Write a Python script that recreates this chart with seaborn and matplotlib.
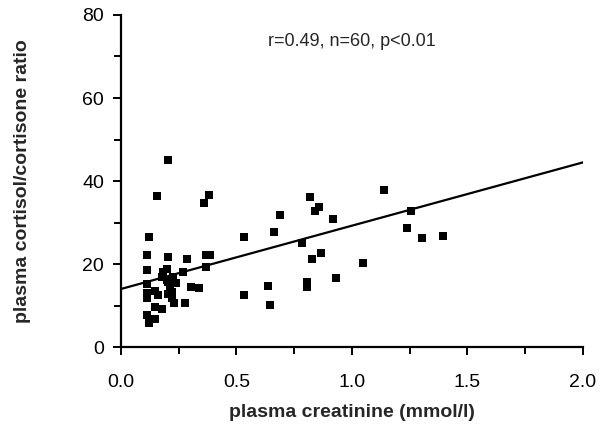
import matplotlib
matplotlib.use("Agg")
import matplotlib.pyplot as plt
from matplotlib.ticker import MultipleLocator
import numpy as np
import pandas as pd
import seaborn as sns

# plasma creatinine (mmol/l)
creatinine = [
    0.112, 0.122, 0.112, 0.112, 0.112, 0.112, 0.112, 0.122, 0.148, 0.148,
    0.148, 0.158, 0.177, 0.184, 0.178, 0.206, 0.206, 0.206, 0.213, 0.206,
    0.220, 0.230, 0.225, 0.198, 0.268, 0.288, 0.278, 0.303, 0.339, 0.360,
    0.380, 0.370, 0.387, 0.370, 0.535, 0.535, 0.220, 0.200, 0.240, 0.160,
    0.636, 0.645, 0.662, 0.691, 0.783, 0.807, 0.807, 0.819, 0.829, 0.839,
    0.858, 0.865, 0.920, 0.930, 1.046, 1.137, 1.239, 1.257, 1.303, 1.394,
]
# plasma cortisol/cortisone ratio
ratio = [
    22.2, 26.6, 18.7, 15.1, 13.1, 11.8, 7.8, 5.8, 13.6, 9.6,
    6.8, 36.5, 9.1, 18.1, 17.0, 45.0, 21.6, 15.8, 14.6, 12.8,
    11.8, 10.6, 17.0, 16.2, 18.2, 21.2, 10.7, 14.6, 14.2, 34.6,
    36.7, 22.2, 22.2, 19.2, 26.6, 12.6, 13.4, 18.8, 15.5, 12.5,
    14.7, 10.2, 27.8, 31.8, 25.2, 15.8, 14.6, 36.2, 21.2, 32.8,
    33.8, 22.7, 30.8, 16.7, 20.2, 37.8, 28.8, 32.8, 26.4, 26.8,
]

# regression line
fit_intercept = 14.0
fit_slope = 15.25
fit_x = [0.0, 2.0]

stats_text = "r=0.49, n=60, p<0.01"

sns.set_theme(style="ticks")
plt.rcParams["font.family"] = ["Liberation Sans Narrow", "Liberation Sans", "DejaVu Sans"]

df = pd.DataFrame({"creatinine": creatinine, "ratio": ratio})
line_df = pd.DataFrame({"x": fit_x,
                        "y": [fit_intercept + fit_slope * v for v in fit_x]})

fig = plt.figure(figsize=(6.01, 4.40), dpi=100)
ax = fig.add_axes([0.201, 0.211, 0.769, 0.755])

sns.scatterplot(data=df, x="creatinine", y="ratio", marker="s", s=30,
                color="black", edgecolor="black", linewidth=0, ax=ax)
sns.lineplot(data=line_df, x="x", y="y", color="black", linewidth=1.6, ax=ax)

ax.set_xlim(0, 2.0)
ax.set_ylim(0, 80)
ax.xaxis.set_major_locator(MultipleLocator(0.5))
ax.xaxis.set_minor_locator(MultipleLocator(0.25))
ax.yaxis.set_major_locator(MultipleLocator(20))
ax.yaxis.set_minor_locator(MultipleLocator(10))
ax.set_xticklabels([f"{v:.1f}" for v in ax.get_xticks()])

for side in ("top", "right"):
    ax.spines[side].set_visible(False)
for side in ("left", "bottom"):
    ax.spines[side].set_linewidth(1.6)
    ax.spines[side].set_color("black")

ax.tick_params(which="major", length=6, width=1.4, color="black",
               labelsize=14, labelcolor="black")
ax.tick_params(axis="x", which="major", pad=13)
ax.tick_params(axis="y", which="major", pad=6)
ax.tick_params(which="minor", length=5, width=1.4, color="black")

ax.set_xlabel("plasma creatinine (mmol/l)", fontsize=14, fontweight="bold",
              labelpad=10)
ax.set_ylabel("plasma cortisol/cortisone ratio", fontsize=14,
              fontweight="bold", labelpad=37)

ax.text(0.5, 0.919, stats_text, transform=ax.transAxes, ha="center",
        va="center", fontsize=13)

fig.savefig("out.png", dpi=100)
